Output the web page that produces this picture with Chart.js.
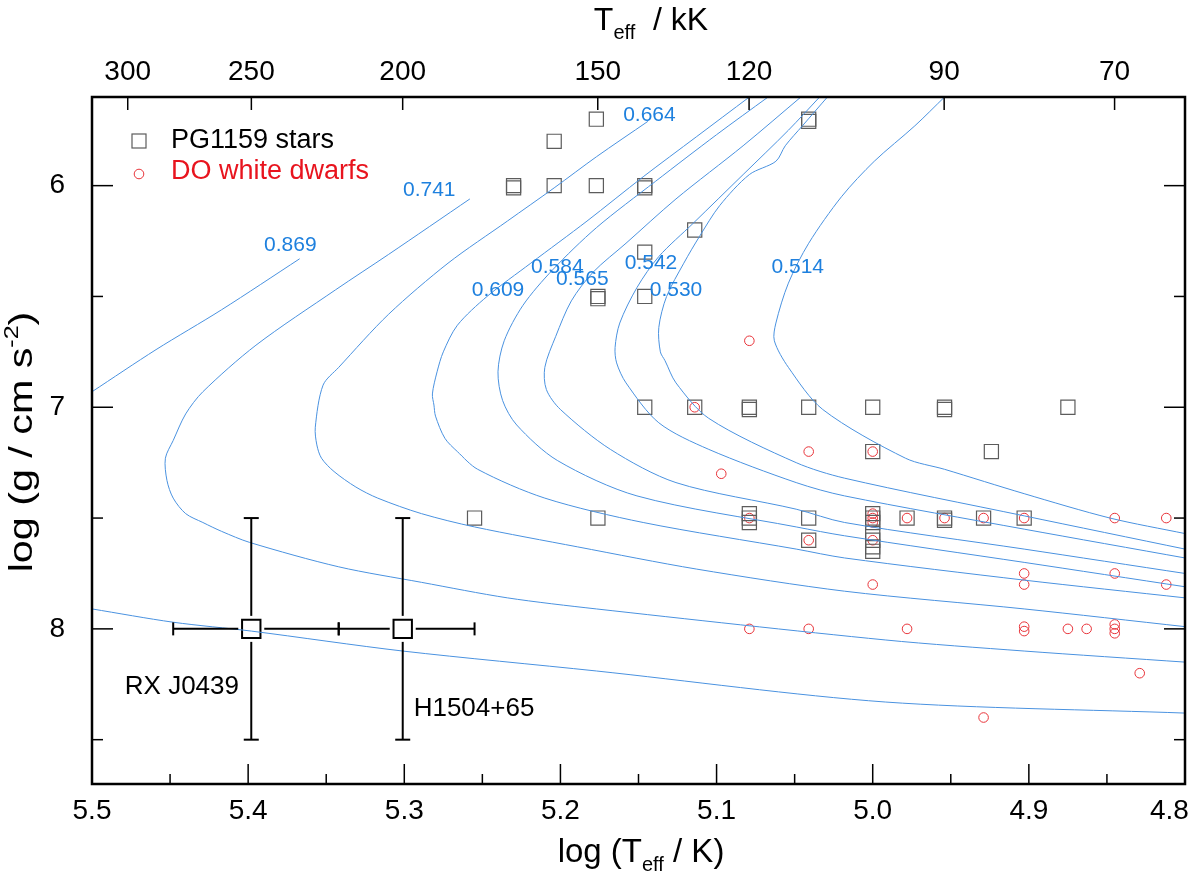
<!DOCTYPE html>
<html lang="en">
<head>
<meta charset="UTF-8">
<title>PG1159 stars and DO white dwarfs</title>
<script src="https://cdn.jsdelivr.net/npm/chart.js"></script>
<style>
  body { margin: 0; background: #fff; }
  #wrap { width: 1200px; height: 871px; }
</style>
</head>
<body>
<div id="wrap"><canvas id="chart"></canvas></div>
<script>
// post-AGB evolutionary tracks, pairs of [log Teff, log g]
const track0869hot = [[5.367, 6.33], [5.417, 6.56], [5.459, 6.74], [5.500, 6.93]];
const track0869cool = [[5.500, 7.91], [5.448, 7.97], [5.398, 8.01], [5.301, 8.10], [5.177, 8.19], [4.992, 8.33], [4.800, 8.38]];
const track0741 = [[5.258, 6.06], [5.310, 6.31], [5.344, 6.47], [5.395, 6.72], [5.429, 6.93], [5.440, 7.03], [5.448, 7.15], [5.453, 7.23],
  [5.452, 7.33], [5.448, 7.41], [5.440, 7.48], [5.429, 7.52], [5.417, 7.56], [5.399, 7.61], [5.342, 7.72], [5.289, 7.79], [5.234, 7.86],
  [5.177, 7.91], [4.992, 8.05], [4.903, 8.10], [4.800, 8.15]];
const track0664 = [[5.144, 5.71], [5.177, 5.87], [5.204, 6.01], [5.234, 6.16], [5.272, 6.35], [5.310, 6.58], [5.342, 6.82], [5.352, 6.90],
  [5.357, 7.09], [5.356, 7.17], [5.353, 7.23], [5.345, 7.29], [5.331, 7.36], [5.317, 7.41], [5.289, 7.48], [5.255, 7.54], [5.189, 7.63],
  [5.113, 7.73], [5.018, 7.83], [4.903, 7.91], [4.800, 7.99]];
const track0609 = [[5.079, 5.60], [5.113, 5.78], [5.147, 5.96], [5.183, 6.16], [5.219, 6.35], [5.247, 6.50], [5.266, 6.63], [5.275, 6.75],
  [5.279, 6.84], [5.282, 6.94], [5.281, 6.99], [5.280, 7.04], [5.274, 7.14], [5.266, 7.20], [5.253, 7.28], [5.210, 7.41], [5.147, 7.52],
  [5.049, 7.64], [5.018, 7.68], [4.903, 7.78], [4.800, 7.86]];
const track0584 = [[5.067, 5.60], [5.100, 5.77], [5.139, 5.98], [5.177, 6.19], [5.205, 6.38], [5.224, 6.54], [5.236, 6.70], [5.240, 6.84],
  [5.237, 6.97], [5.228, 7.08], [5.202, 7.24], [5.151, 7.40], [5.049, 7.54], [5.018, 7.58], [4.903, 7.70], [4.800, 7.81]];
const track0565 = [[5.046, 5.60], [5.083, 5.82], [5.126, 6.06], [5.158, 6.26], [5.179, 6.39], [5.193, 6.52], [5.203, 6.68], [5.210, 6.82],
  [5.209, 6.92], [5.200, 7.01], [5.168, 7.19], [5.126, 7.34], [5.049, 7.46], [5.018, 7.52], [4.903, 7.64], [4.800, 7.75]];
const track0542 = [[5.034, 5.60], [5.054, 5.75], [5.083, 5.95], [5.115, 6.17], [5.137, 6.32], [5.151, 6.46], [5.162, 6.62], [5.165, 6.73],
  [5.164, 6.80], [5.158, 6.89], [5.137, 7.07], [5.105, 7.19], [5.049, 7.34], [5.018, 7.40], [4.903, 7.55], [4.800, 7.68]];
const track0530 = [[5.029, 5.60], [5.045, 5.73], [5.056, 5.82], [5.062, 5.89], [5.079, 5.95], [5.098, 6.09], [5.111, 6.23], [5.121, 6.35],
  [5.132, 6.50], [5.137, 6.64], [5.136, 6.75], [5.133, 6.79], [5.126, 6.89], [5.105, 7.05], [5.049, 7.25], [5.018, 7.32], [4.903, 7.49],
  [4.800, 7.64]];
const track0514 = [[4.954, 5.60], [4.973, 5.73], [4.999, 5.89], [5.020, 6.05], [5.041, 6.26], [5.054, 6.44], [5.062, 6.62], [5.063, 6.70],
  [5.054, 6.82], [5.032, 7.01], [4.979, 7.23], [4.954, 7.28], [4.903, 7.39], [4.848, 7.50], [4.800, 7.57]];

// track mass labels and where they sit (log Teff, log g)
const trackMasses = ['0.869', '0.741', '0.664', '0.609', '0.584', '0.565', '0.542', '0.530', '0.514'];
const trackLabelTeff = [5.373, 5.284, 5.143, 5.240, 5.202, 5.186, 5.142, 5.126, 5.048];
const trackLabelLogg = [6.27, 6.02, 5.68, 6.47, 6.37, 6.42, 6.35, 6.47, 6.37];

// PG1159 stars
const pgTeff = [5.177, 5.204, 5.230, 5.230, 5.204, 5.177, 5.146, 5.146, 5.041, 5.041, 5.114, 5.146, 5.176, 5.176, 5.146,
  5.146, 5.114, 5.079, 5.079, 5.041, 5.000, 4.954, 4.954, 4.875, 5.000, 4.924,
  5.255, 5.176, 5.079, 5.079, 5.079, 5.041, 5.000, 5.000, 5.000, 4.978, 4.954, 4.954, 4.929, 4.903,
  5.041, 5.000, 5.000, 5.000, 5.000];
const pgLogg = [5.70, 5.80, 6.00, 6.01, 6.00, 6.00, 6.00, 6.01, 5.70, 5.71, 6.20, 6.30, 6.50, 6.51, 6.50,
  7.00, 7.00, 7.00, 7.01, 7.00, 7.00, 7.00, 7.01, 7.00, 7.20, 7.20,
  7.50, 7.50, 7.48, 7.50, 7.52, 7.50, 7.48, 7.50, 7.52, 7.50, 7.50, 7.51, 7.50, 7.50,
  7.60, 7.57, 7.60, 7.63, 7.65];

// DO white dwarfs
const doTeff = [5.079, 5.114, 5.097, 5.041, 5.000, 5.079, 5.041, 5.000, 5.000, 5.000, 5.000, 4.978, 4.954, 4.929, 4.903,
  4.845, 4.812, 5.000, 4.903, 4.903, 4.845, 4.812, 5.079, 5.041, 4.978, 4.903, 4.903, 4.875, 4.863,
  4.845, 4.845, 4.845, 4.829, 4.929];
const doLogg = [6.70, 7.00, 7.30, 7.20, 7.20, 7.50, 7.60, 7.48, 7.50, 7.52, 7.60, 7.50, 7.50, 7.50, 7.50,
  7.50, 7.50, 7.80, 7.75, 7.80, 7.75, 7.80, 8.00, 8.00, 8.00, 7.99, 8.01, 8.00, 8.00,
  7.98, 8.00, 8.02, 8.20, 8.40];

// the two hottest objects with error bars
const hotNames = ['RX J0439', 'H1504+65'];
const hotTeff = [5.398, 5.301];
const hotLogg = [8.0, 8.0];
const hotTeffCool = [5.342, 5.255];
const hotTeffHot = [5.448, 5.342];
const hotLoggLow = [7.5, 7.5];
const hotLoggHigh = [8.5, 8.5];
const hotNameTeff = [5.479, 5.294];
const hotNameLogg = [8.26, 8.36];

// axis ticks
const bottomTicks = [5.5, 5.4, 5.3, 5.2, 5.1, 5.0, 4.9, 4.8];
const topTicksKK = [300, 250, 200, 150, 120, 90, 70];
const leftTicks = [6, 7, 8];

const FONT = '"Liberation Sans", Arial, sans-serif';
const TRACK_COLOR = '#4a92e0';
const LABEL_BLUE = '#1e80de';

const toXY = pts => pts.map(p => ({ x: p[0], y: p[1] }));
const zipXY = (xs, ys) => xs.map((x, i) => ({ x: x, y: ys[i] }));

const trackList = [track0869hot, track0869cool, track0741, track0664, track0609, track0584, track0565, track0542, track0530, track0514];

const datasets = trackList.map(t => ({
  data: toXY(t),
  showLine: true,
  borderColor: TRACK_COLOR,
  borderWidth: 1,
  pointRadius: 0,
  tension: 0.3
}));
datasets.push({
  label: 'PG1159 stars',
  data: zipXY(pgTeff, pgLogg),
  pointStyle: 'rect',
  pointRadius: 10,
  borderColor: '#5c5c5c',
  borderWidth: 1.2,
  backgroundColor: 'rgba(0,0,0,0)'
});
datasets.push({
  label: 'DO white dwarfs',
  data: zipXY(doTeff, doLogg),
  pointStyle: 'circle',
  pointRadius: 4.8,
  borderColor: '#e8343a',
  borderWidth: 1,
  backgroundColor: 'rgba(0,0,0,0)'
});
datasets.push({
  data: zipXY(hotTeff, hotLogg),
  pointStyle: 'rect',
  pointRadius: 13,
  borderColor: '#000',
  borderWidth: 2,
  backgroundColor: 'rgba(0,0,0,0)'
});

function line(ctx, x1, y1, x2, y2) {
  ctx.beginPath();
  ctx.moveTo(x1, y1);
  ctx.lineTo(x2, y2);
  ctx.stroke();
}

// text with sub/superscripts: parts are [text, 0 normal | 1 sub | 2 sup]
function richText(ctx, parts, x, y, size) {
  const small = Math.round(size * 0.62);
  let total = 0;
  parts.forEach(p => {
    ctx.font = (p[1] ? small : size) + 'px ' + FONT;
    total += ctx.measureText(p[0]).width;
  });
  let cx = x - total / 2;
  ctx.textAlign = 'left';
  ctx.textBaseline = 'alphabetic';
  parts.forEach(p => {
    ctx.font = (p[1] ? small : size) + 'px ' + FONT;
    const dy = p[1] === 1 ? size * 0.28 : (p[1] === 2 ? -size * 0.42 : 0);
    ctx.fillText(p[0], cx, y + dy);
    cx += ctx.measureText(p[0]).width;
  });
}

const decor = {
  id: 'decor',
  afterDatasetsDraw(chart) {
    const { ctx, chartArea: a, scales } = chart;
    const sx = scales.x, sy = scales.y;
    ctx.save();

    // error bars
    ctx.strokeStyle = '#000';
    ctx.lineWidth = 2;
    const gap = 13;
    for (let i = 0; i < hotTeff.length; i++) {
      const px = sx.getPixelForValue(hotTeff[i]);
      const py = sy.getPixelForValue(hotLogg[i]);
      const xl = sx.getPixelForValue(hotTeffHot[i]);
      const xr = sx.getPixelForValue(hotTeffCool[i]);
      const yt = sy.getPixelForValue(hotLoggLow[i]);
      const yb = sy.getPixelForValue(hotLoggHigh[i]);
      line(ctx, xl, py, px - gap, py);
      line(ctx, px + gap, py, xr, py);
      line(ctx, px, yt, px, py - gap);
      line(ctx, px, py + gap, px, yb);
      line(ctx, xl, py - 6.5, xl, py + 6.5);
      line(ctx, xr, py - 6.5, xr, py + 6.5);
      line(ctx, px - 7.5, yt, px + 7.5, yt);
      line(ctx, px - 7.5, yb, px + 7.5, yb);
    }

    // names of the two hot objects
    ctx.fillStyle = '#000';
    ctx.font = '26px ' + FONT;
    ctx.textAlign = 'left';
    ctx.textBaseline = 'middle';
    hotNames.forEach((n, i) => {
      ctx.fillText(n, sx.getPixelForValue(hotNameTeff[i]), sy.getPixelForValue(hotNameLogg[i]));
    });

    // track masses
    ctx.fillStyle = LABEL_BLUE;
    ctx.font = '21px ' + FONT;
    ctx.textAlign = 'center';
    trackMasses.forEach((m, i) => {
      ctx.fillText(m, sx.getPixelForValue(trackLabelTeff[i]), sy.getPixelForValue(trackLabelLogg[i]));
    });

    // legend
    const lx = a.left + 47, ly1 = a.top + 44, ly2 = a.top + 77;
    ctx.strokeStyle = '#5c5c5c';
    ctx.lineWidth = 1.2;
    ctx.strokeRect(lx - 7, ly1 - 7, 14, 14);
    ctx.strokeStyle = '#e8343a';
    ctx.lineWidth = 1;
    ctx.beginPath();
    ctx.arc(lx, ly2, 4.8, 0, Math.PI * 2);
    ctx.stroke();
    ctx.font = '27px ' + FONT;
    ctx.textAlign = 'left';
    ctx.fillStyle = '#000';
    ctx.fillText('PG1159 stars', lx + 32, ly1);
    ctx.fillStyle = '#e8141e';
    ctx.fillText('DO white dwarfs', lx + 32, ly2 - 2);
    ctx.restore();
  },
  afterDraw(chart) {
    const { ctx, chartArea: a, scales } = chart;
    const sx = scales.x, sy = scales.y, st = scales.xTop;
    ctx.save();
    ctx.strokeStyle = '#000';

    // inward tick marks
    ctx.lineWidth = 1.5;
    bottomTicks.forEach((v, i) => {
      const px = sx.getPixelForValue(v);
      line(ctx, px, a.bottom, px, a.bottom - 20);
      if (i > 0) {
        const pm = sx.getPixelForValue((v + bottomTicks[i - 1]) / 2);
        line(ctx, pm, a.bottom, pm, a.bottom - 10);
      }
    });
    topTicksKK.forEach(k => {
      const px = st.getPixelForValue(Math.log10(k * 1000));
      line(ctx, px, a.top, px, a.top + 13);
    });
    leftTicks.forEach(v => {
      const py = sy.getPixelForValue(v);
      line(ctx, a.left, py, a.left + 21, py);
      line(ctx, a.right, py, a.right - 21, py);
      const pm = sy.getPixelForValue(v + 0.5);
      line(ctx, a.left, pm, a.left + 11, pm);
      line(ctx, a.right, pm, a.right - 11, pm);
    });

    // frame
    ctx.lineWidth = 2.5;
    ctx.strokeRect(a.left, a.top, a.right - a.left, a.bottom - a.top);

    // axis titles
    ctx.fillStyle = '#000';
    richText(ctx, [['log (T', 0], ['eff', 1], [' / K)', 0]], 641, 862, 33);
    richText(ctx, [['T', 0], ['eff', 1], ['  / kK', 0]], 651, 30, 32);
    ctx.translate(32, 442);
    ctx.rotate(-Math.PI / 2);
    ctx.scale(1.25, 1);
    richText(ctx, [['log (g / cm s', 0], ['-2', 2], [')', 0]], 0, 0, 33);
    ctx.restore();
  }
};

const tickFont = { family: FONT, size: 28 };

new Chart(document.getElementById('chart'), {
  type: 'scatter',
  data: { datasets: datasets },
  plugins: [decor],
  options: {
    responsive: true,
    maintainAspectRatio: false,
    animation: false,
    layout: { padding: { left: 0, right: 8, top: 0, bottom: 0 } },
    plugins: { legend: { display: false }, tooltip: { enabled: false } },
    scales: {
      x: {
        type: 'linear', position: 'bottom', min: 4.8, max: 5.5, reverse: true,
        afterBuildTicks: s => { s.ticks = bottomTicks.map(v => ({ value: v })); },
        afterFit: s => { s.height = 87; s.paddingLeft = 0; s.paddingRight = 0; },
        ticks: {
          autoSkip: false, maxRotation: 0, padding: 10, color: '#000', font: tickFont,
          // the last label sits inside the frame, so pad it on the right
          callback: (v, i) => i === bottomTicks.length - 1 ? v.toFixed(1) + '\u2007\u2007' : v.toFixed(1)
        },
        grid: { display: false, drawTicks: false },
        border: { display: false }
      },
      xTop: {
        type: 'linear', position: 'top', min: 4.8, max: 5.5, reverse: true,
        afterBuildTicks: s => { s.ticks = topTicksKK.map(k => ({ value: Math.log10(k * 1000) })); },
        afterFit: s => { s.height = 97; s.paddingLeft = 0; s.paddingRight = 0; },
        ticks: { autoSkip: false, maxRotation: 0, padding: 8, color: '#000', font: tickFont, callback: (v, i) => String(topTicksKK[i]) },
        grid: { display: false, drawTicks: false },
        border: { display: false }
      },
      y: {
        type: 'linear', position: 'left', min: 5.6, max: 8.7, reverse: true,
        afterBuildTicks: s => { s.ticks = leftTicks.map(v => ({ value: v })); },
        afterFit: s => { s.width = 92; s.paddingTop = 0; s.paddingBottom = 0; },
        ticks: { autoSkip: false, padding: 27, color: '#000', font: tickFont, callback: v => String(v) },
        grid: { display: false, drawTicks: false },
        border: { display: false }
      }
    }
  }
});
</script>
</body>
</html>
